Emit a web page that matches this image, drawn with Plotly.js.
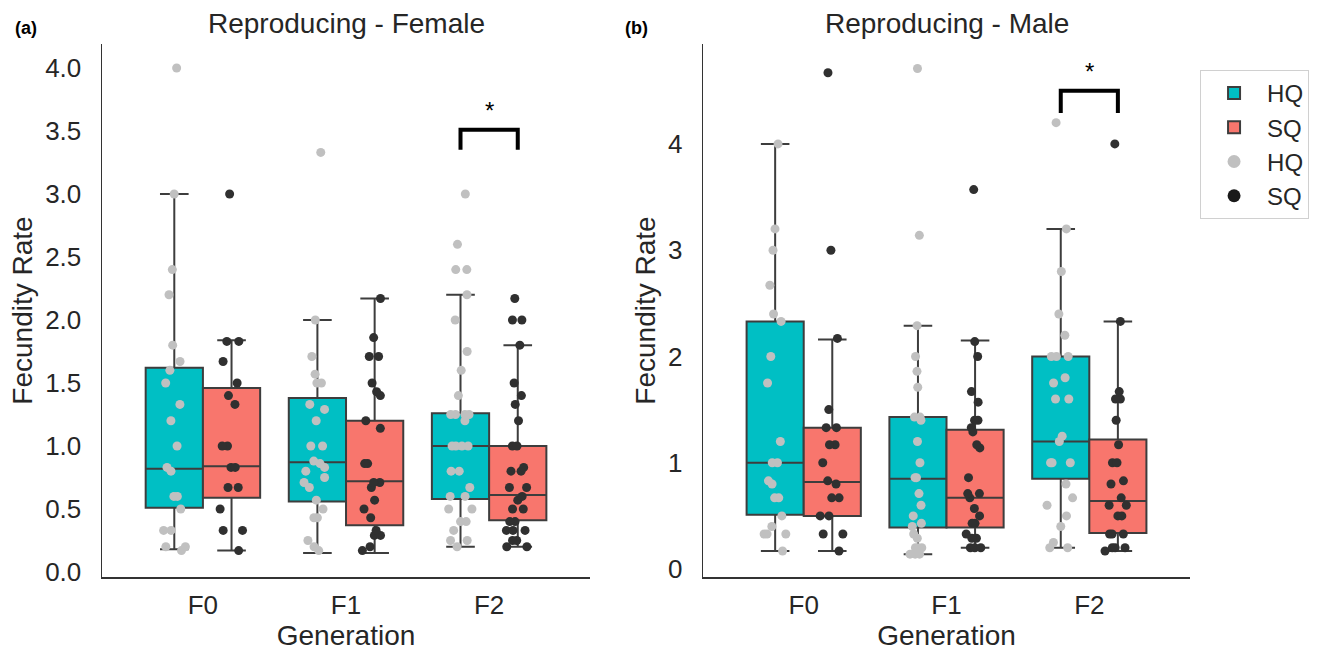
<!DOCTYPE html>
<html><head><meta charset="utf-8">
<script src="https://cdn.plot.ly/plotly-3.0.1.min.js"></script>
<style>html,body{margin:0;padding:0;background:#fff}#chart{width:1325px;height:652px}</style>
</head><body><div id="chart"></div>
<script>
// ---------- data ----------
const generations = ['F0', 'F1', 'F2'];
const groups = ['HQ', 'SQ'];
const yTicksFemale = [0, 0.5, 1, 1.5, 2, 2.5, 3, 3.5, 4];
const yTickTextFemale = ['0.0', '0.5', '1.0', '1.5', '2.0', '2.5', '3.0', '3.5', '4.0'];
const yTicksMale = [0, 1, 2, 3, 4];
const yTickTextMale = ['0', '1', '2', '3', '4'];

// individual points (Fecundity Rate), female
const femHQ_F0 = [4.0, 3.0, 2.4, 2.2, 1.8, 1.67, 1.6, 1.5, 1.33, 1.2, 1.0, 0.83, 0.8, 0.6, 0.6, 0.5, 0.33, 0.33, 0.2, 0.2, 0.17];
const femSQ_F0 = [3.0, 1.83, 1.83, 1.67, 1.5, 1.4, 1.33, 1.0, 1.0, 0.83, 0.83, 0.67, 0.67, 0.5, 0.33, 0.33, 0.17];
const femHQ_F1 = [3.33, 2.0, 1.71, 1.57, 1.5, 1.5, 1.33, 1.29, 1.2, 1.0, 1.0, 0.88, 0.86, 0.83, 0.8, 0.75, 0.71, 0.67, 0.57, 0.5, 0.43, 0.43, 0.25, 0.2, 0.17];
const femSQ_F1 = [2.17, 1.86, 1.71, 1.71, 1.5, 1.43, 1.4, 1.2, 1.14, 0.86, 0.86, 0.71, 0.71, 0.67, 0.57, 0.5, 0.43, 0.33, 0.29, 0.29, 0.2, 0.17];
const femHQ_F2 = [3.0, 2.6, 2.4, 2.4, 2.2, 2.0, 1.75, 1.6, 1.4, 1.25, 1.25, 1.25, 1.25, 1.2, 1.0, 1.0, 1.0, 1.0, 0.8, 0.8, 0.67, 0.6, 0.6, 0.5, 0.5, 0.4, 0.4, 0.33, 0.25, 0.25, 0.2];
const femSQ_F2 = [2.17, 2.0, 2.0, 1.8, 1.5, 1.4, 1.33, 1.2, 1.0, 1.0, 0.83, 0.8, 0.8, 0.67, 0.67, 0.6, 0.57, 0.5, 0.5, 0.4, 0.4, 0.33, 0.33, 0.33, 0.25, 0.25, 0.2, 0.2];

// individual points, male
const maleHQ_F0 = [4.0, 3.2, 3.0, 2.67, 2.4, 2.33, 2.0, 1.75, 1.2, 1.0, 1.0, 0.83, 0.8, 0.67, 0.67, 0.5, 0.4, 0.33, 0.33, 0.33, 0.17];
const maleSQ_F0 = [4.67, 3.0, 2.17, 1.5, 1.33, 1.33, 1.17, 1.17, 1.0, 0.83, 0.8, 0.67, 0.67, 0.5, 0.5, 0.33, 0.33, 0.17];
const maleHQ_F1 = [4.71, 3.14, 2.29, 2.0, 1.86, 1.71, 1.43, 1.43, 1.4, 1.2, 1.0, 0.86, 0.86, 0.71, 0.6, 0.5, 0.43, 0.4, 0.33, 0.29, 0.2, 0.2, 0.2, 0.14, 0.14, 0.14];
const maleSQ_F1 = [3.57, 2.14, 2.0, 1.67, 1.57, 1.4, 1.4, 1.33, 1.29, 1.17, 1.14, 0.86, 0.71, 0.71, 0.67, 0.57, 0.5, 0.43, 0.43, 0.33, 0.29, 0.29, 0.2, 0.2, 0.2];
const maleHQ_F2 = [4.2, 3.2, 2.8, 2.4, 2.2, 2.0, 2.0, 2.0, 1.8, 1.75, 1.6, 1.6, 1.25, 1.2, 1.0, 1.0, 1.0, 0.8, 0.67, 0.6, 0.5, 0.4, 0.25, 0.2, 0.2];
const maleSQ_F2 = [4.0, 2.33, 1.67, 1.6, 1.6, 1.4, 1.17, 1.0, 1.0, 0.83, 0.8, 0.67, 0.6, 0.6, 0.5, 0.5, 0.33, 0.33, 0.33, 0.2, 0.2, 0.2, 0.17];

// box statistics per generation (F0, F1, F2)
const femHQ_q1 = [0.51, 0.56, 0.58], femHQ_med = [0.82, 0.87, 1.0], femHQ_q3 = [1.62, 1.38, 1.26], femHQ_lo = [0.18, 0.15, 0.2], femHQ_hi = [3.0, 2.0, 2.2];
const femSQ_q1 = [0.59, 0.37, 0.41], femSQ_med = [0.84, 0.72, 0.61], femSQ_q3 = [1.46, 1.2, 1.0], femSQ_lo = [0.17, 0.15, 0.2], femSQ_hi = [1.84, 2.17, 1.8];
const maleHQ_q1 = [0.51, 0.39, 0.85], maleHQ_med = [1.0, 0.85, 1.2], maleHQ_q3 = [2.33, 1.43, 2.0], maleHQ_lo = [0.17, 0.14, 0.2], maleHQ_hi = [4.0, 2.29, 3.2];
const maleSQ_q1 = [0.5, 0.39, 0.34], maleSQ_med = [0.82, 0.67, 0.64], maleSQ_q3 = [1.33, 1.31, 1.22], maleSQ_lo = [0.17, 0.2, 0.17], maleSQ_hi = [2.16, 2.15, 2.33];

// significance markers: generation, bracket bottom / top, star height
const femSigGen = 'F2', femSigY = [3.35, 3.51], femStarY = 3.66;
const maleSigGen = 'F2', maleSigY = [4.29, 4.5], maleStarY = 4.68;

// ---------- styling ----------
const FONT = 'Liberation Sans, Arial, Helvetica, sans-serif';
const TXT = '#262626';
const boxFill = {HQ: '#00BFC4', SQ: '#F8766D'};
const ptColor = {HQ: '#C0C0C0', SQ: '#303030'};
const legendDot = {HQ: '#C0C0C0', SQ: '#1a1a1a'};
const edge = '#3d3d3d';
const genIdx = generations.map((g, i) => i);

function statBox(grp, q1, med, q3, lo, hi, xa, ya, showlegend) {
  return {
    type: 'box', name: grp, x: genIdx, q1: q1, median: med, q3: q3,
    lowerfence: lo, upperfence: hi, xaxis: xa, yaxis: ya,
    offsetgroup: grp, fillcolor: boxFill[grp],
    line: {color: edge, width: 2}, whiskerwidth: 0.5,
    boxpoints: false, showlegend: showlegend, legendgroup: 'box' + grp
  };
}
function pointBox(grp, lists, xa, ya) {
  const xs = [], ys = [];
  lists.forEach((arr, gi) => arr.forEach(v => { xs.push(gi); ys.push(v); }));
  return {
    type: 'box', name: grp, x: xs, y: ys, xaxis: xa, yaxis: ya,
    offsetgroup: grp, boxpoints: 'all', jitter: 0.5, pointpos: 0,
    fillcolor: 'rgba(0,0,0,0)', line: {color: 'rgba(0,0,0,0)', width: 0},
    marker: {color: ptColor[grp], size: 9, line: {width: 0}},
    hoveron: 'points', showlegend: false
  };
}

const traces = [
  statBox('HQ', femHQ_q1, femHQ_med, femHQ_q3, femHQ_lo, femHQ_hi, 'x', 'y', true),
  statBox('SQ', femSQ_q1, femSQ_med, femSQ_q3, femSQ_lo, femSQ_hi, 'x', 'y', true),
  statBox('HQ', maleHQ_q1, maleHQ_med, maleHQ_q3, maleHQ_lo, maleHQ_hi, 'x2', 'y2', false),
  statBox('SQ', maleSQ_q1, maleSQ_med, maleSQ_q3, maleSQ_lo, maleSQ_hi, 'x2', 'y2', false),
  pointBox('HQ', [femHQ_F0, femHQ_F1, femHQ_F2], 'x', 'y'),
  pointBox('SQ', [femSQ_F0, femSQ_F1, femSQ_F2], 'x', 'y'),
  pointBox('HQ', [maleHQ_F0, maleHQ_F1, maleHQ_F2], 'x2', 'y2'),
  pointBox('SQ', [maleSQ_F0, maleSQ_F1, maleSQ_F2], 'x2', 'y2'),
  {type: 'scatter', mode: 'markers', name: 'HQ', x: [null], y: [null], marker: {color: legendDot.HQ, size: 13}, showlegend: true},
  {type: 'scatter', mode: 'markers', name: 'SQ', x: [null], y: [null], marker: {color: legendDot.SQ, size: 13}, showlegend: true}
];

function bracket(gen, ys, xa, ya) {
  const c = generations.indexOf(gen);
  return {type: 'path', xref: xa, yref: ya,
    path: `M ${c - 0.2},${ys[0]} L ${c - 0.2},${ys[1]} L ${c + 0.2},${ys[1]} L ${c + 0.2},${ys[0]}`,
    line: {color: '#000', width: 4}};
}

const xaxisBase = {
  tickvals: genIdx, ticktext: generations, range: [-0.705, 2.705],
  showgrid: false, zeroline: false, showline: true, linecolor: '#333', linewidth: 1.5,
  ticks: 'outside', ticklen: 4, tickcolor: 'rgba(0,0,0,0)',
  tickfont: {family: FONT, size: 26, color: TXT},
  title: {text: 'Generation', font: {family: FONT, size: 28, color: TXT}, standoff: 2}
};
const yaxisBase = {
  showgrid: false, zeroline: false, showline: true, linecolor: '#333', linewidth: 1.5,
  ticks: 'outside', ticklen: 14, tickcolor: 'rgba(0,0,0,0)',
  tickfont: {family: FONT, size: 26, color: TXT},
  title: {text: 'Fecundity Rate', font: {family: FONT, size: 28, color: TXT}, standoff: 4},
  domain: [0.115, 0.9325]
};

const layout = {
  width: 1325, height: 652, paper_bgcolor: '#fff', plot_bgcolor: '#fff',
  margin: {l: 0, r: 0, t: 0, b: 0},
  boxmode: 'group', boxgap: 0.2, boxgroupgap: 0,
  font: {family: FONT, color: TXT},
  xaxis: Object.assign({}, xaxisBase, {domain: [0.077, 0.4453], anchor: 'y'}),
  yaxis: Object.assign({}, yaxisBase, {range: [-0.04, 4.19], tickvals: yTicksFemale, ticktext: yTickTextFemale, anchor: 'x'}),
  xaxis2: Object.assign({}, xaxisBase, {domain: [0.5306, 0.8981], anchor: 'y2'}),
  yaxis2: Object.assign({}, yaxisBase, {range: [-0.075, 4.94], tickvals: yTicksMale, ticktext: yTickTextMale, anchor: 'x2'}),
  showlegend: true,
  legend: {x: 0.9057, y: 0.8926, xanchor: 'left', yanchor: 'top', bgcolor: '#fff',
    bordercolor: '#d0d0d0', borderwidth: 1, itemwidth: 56,
    font: {family: FONT, size: 24, color: TXT}, traceorder: 'normal'},
  shapes: [bracket(femSigGen, femSigY, 'x', 'y'), bracket(maleSigGen, maleSigY, 'x2', 'y2')],
  annotations: [
    {text: 'Reproducing - Female', xref: 'x domain', yref: 'paper', x: 0.5, y: 0.964, xanchor: 'center', yanchor: 'middle', showarrow: false, font: {family: FONT, size: 28, color: TXT}},
    {text: 'Reproducing - Male', xref: 'x2 domain', yref: 'paper', x: 0.5, y: 0.964, xanchor: 'center', yanchor: 'middle', showarrow: false, font: {family: FONT, size: 28, color: TXT}},
    {text: '<b>(a)</b>', xref: 'paper', yref: 'paper', x: 26 / 1325, y: 1 - 28 / 652, xanchor: 'center', yanchor: 'middle', showarrow: false, font: {family: FONT, size: 18, color: '#000'}},
    {text: '<b>(b)</b>', xref: 'paper', yref: 'paper', x: 636 / 1325, y: 1 - 28 / 652, xanchor: 'center', yanchor: 'middle', showarrow: false, font: {family: FONT, size: 18, color: '#000'}},
    {text: '*', xref: 'x', yref: 'y', x: generations.indexOf(femSigGen), y: femStarY, showarrow: false, yanchor: 'middle', font: {family: FONT, size: 24, color: '#000'}},
    {text: '*', xref: 'x2', yref: 'y2', x: generations.indexOf(maleSigGen), y: maleStarY, showarrow: false, yanchor: 'middle', font: {family: FONT, size: 24, color: '#000'}}
  ]
};

Plotly.newPlot('chart', traces, layout, {displayModeBar: false, staticPlot: true});
</script>
</body></html>
